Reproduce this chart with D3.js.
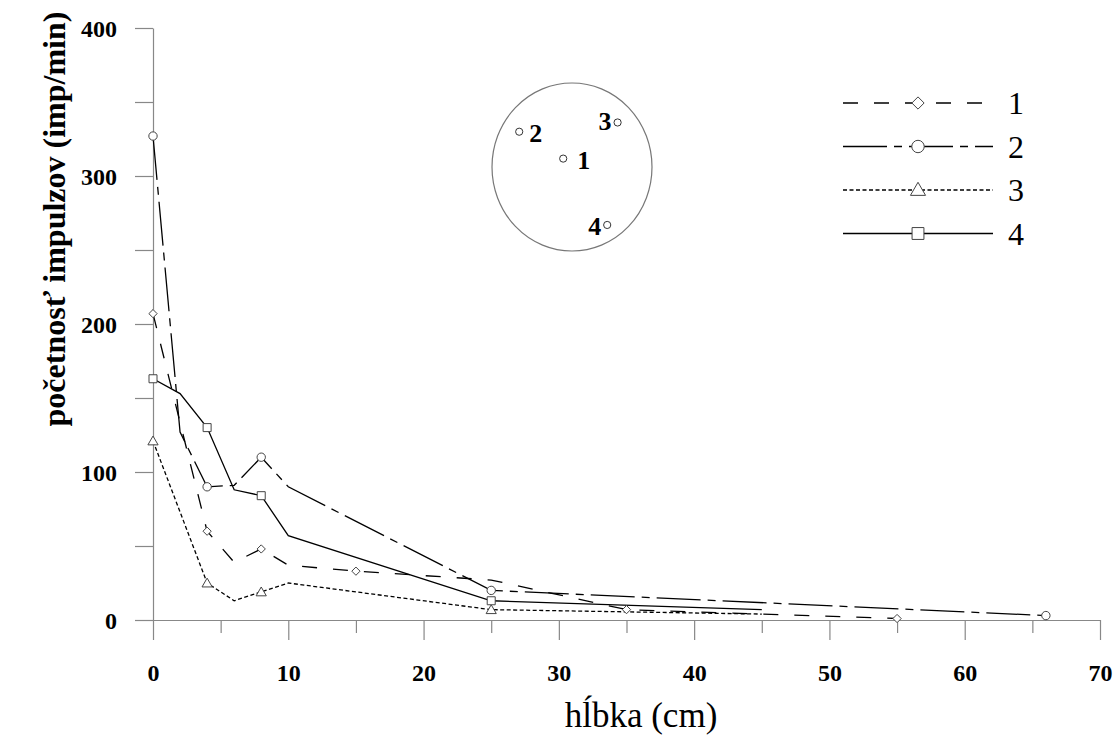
<!DOCTYPE html>
<html>
<head>
<meta charset="utf-8">
<script src="https://cdn.jsdelivr.net/npm/d3@7"></script>
<style>
  body { margin: 0; background: #fff; }
</style>
</head>
<body>
<div id="chart"></div>
<script>
// data: depth (cm) and count rate (imp/min)
// mark = 1 where the original shows a symbol on the point
var depth1 = [0, 4, 6, 8, 10, 15, 25, 35, 55];
var value1 = [207, 60, 39, 48, 37, 33, 27, 7, 1];
var mark1  = [1, 1, 0, 1, 0, 1, 0, 1, 1];

var depth2 = [0, 2, 4, 6, 8, 10, 25, 66];
var value2 = [327, 127, 90, 91, 110, 90, 20, 3];
var mark2  = [1, 0, 1, 0, 1, 0, 1, 1];

var depth3 = [0, 4, 6, 8, 10, 25, 45];
var value3 = [121, 25, 13, 19, 25, 7, 4];
var mark3  = [1, 1, 0, 1, 0, 1, 0];

var depth4 = [0, 2, 4, 6, 8, 10, 25, 45];
var value4 = [163, 153, 130, 88, 84, 57, 13, 7];
var mark4  = [1, 0, 1, 0, 1, 0, 1, 0];

var seriesNames = ["1", "2", "3", "4"];

// sample positions in the core cross-section (relative, -1..1)
var insetLabels = ["1", "2", "3", "4"];
var insetX = [-0.11, -0.66, 0.57, 0.44];
var insetY = [0.10, 0.42, 0.53, -0.69];

var width = 1115, height = 740;
var font = "'Liberation Serif', 'Times New Roman', Times, serif";

var x = d3.scaleLinear().domain([0, 70]).range([153, 1100]);
var y = d3.scaleLinear().domain([0, 400]).range([620, 28]);

var svg = d3.select("#chart").append("svg")
    .attr("width", width)
    .attr("height", height)
    .style("font-family", font);

// square turned 45 degrees, like the original diamonds
var rhomb = {
  draw: function(context, size) {
    var r = Math.sqrt(size / 2);
    context.moveTo(0, -r);
    context.lineTo(r, 0);
    context.lineTo(0, r);
    context.lineTo(-r, 0);
    context.closePath();
  }
};

function makeSeries(depth, value, mark) {
  return depth.map(function(d, i) {
    return {x: d, y: value[i], mark: mark[i]};
  });
}

var series = [
  {name: seriesNames[0], data: makeSeries(depth1, value1, mark1), dash: "15,16", symbol: rhomb, size: 34},
  {name: seriesNames[1], data: makeSeries(depth2, value2, mark2), dash: "44,7,8,7", symbol: d3.symbolCircle, size: 55},
  {name: seriesNames[2], data: makeSeries(depth3, value3, mark3), dash: "4,2.5", symbol: d3.symbolTriangle, size: 45},
  {name: seriesNames[3], data: makeSeries(depth4, value4, mark4), dash: null, symbol: d3.symbolSquare, size: 64}
];

// axes
var xAxis = d3.axisBottom(x)
    .tickValues(d3.range(0, 71, 5))
    .tickSize(20)
    .tickSizeOuter(0)
    .tickFormat(function(d) { return d % 10 === 0 ? d : ""; });

var gx = svg.append("g")
    .attr("transform", "translate(0,620)")
    .call(xAxis);
gx.selectAll(".tick line")
    .attr("y2", function(d) { return d % 10 === 0 ? 20 : 13; });
gx.selectAll(".tick text")
    .attr("y", 61).attr("dy", 0);

var yAxis = d3.axisLeft(y)
    .tickValues(d3.range(0, 401, 50))
    .tickSize(18)
    .tickSizeOuter(0)
    .tickPadding(18)
    .tickFormat(function(d) { return d % 100 === 0 ? d : ""; });

var gy = svg.append("g")
    .attr("transform", "translate(153,0)")
    .call(yAxis);
gy.selectAll(".tick text")
    .attr("dy", "0.34em");

svg.selectAll(".tick text")
    .style("font-family", font)
    .style("font-size", "24px")
    .style("font-weight", "bold")
    .attr("fill", "#000");

svg.selectAll(".domain, .tick line").attr("stroke", "#888").attr("stroke-width", 1.2);

// axis titles
svg.append("text")
    .attr("x", 641)
    .attr("y", 727)
    .attr("text-anchor", "middle")
    .style("font-family", font)
    .style("font-size", "35px")
    .text("hĺbka (cm)");

svg.append("text")
    .attr("transform", "translate(65,219) rotate(-90)")
    .attr("text-anchor", "middle")
    .style("font-family", font)
    .style("font-size", "32px")
    .style("font-weight", "bold")
    .text("početnosť impulzov (imp/min)");

// lines
var line = d3.line()
    .x(function(d) { return x(d.x); })
    .y(function(d) { return y(d.y); });

series.forEach(function(s) {
  svg.append("path")
      .datum(s.data)
      .attr("d", line)
      .attr("fill", "none")
      .attr("stroke", "#000")
      .attr("stroke-width", 1.3)
      .attr("stroke-dasharray", s.dash);
});

series.forEach(function(s) {
  svg.selectAll(null)
      .data(s.data.filter(function(d) { return d.mark; }))
      .enter().append("path")
      .attr("transform", function(d) {
        var off = s.symbol === d3.symbolTriangle ? 1 : 0;
        return "translate(" + x(d.x) + "," + (y(d.y) + off) + ")";
      })
      .attr("d", d3.symbol().type(s.symbol).size(s.size))
      .attr("fill", "#fff")
      .attr("stroke", "#444")
      .attr("stroke-width", 1);
});

// legend
var legend = svg.selectAll(".legend")
    .data(series)
    .enter().append("g")
    .attr("class", "legend")
    .attr("transform", function(d, i) { return "translate(843," + (103 + i * 43.5) + ")"; });

legend.append("line")
    .attr("x1", 0).attr("x2", 150)
    .attr("stroke", "#000")
    .attr("stroke-width", 1.3)
    .attr("stroke-dasharray", function(d) { return d.dash; });

legend.append("path")
    .attr("transform", function(d) {
      return "translate(75," + (d.symbol === d3.symbolTriangle ? 1 : 0) + ")";
    })
    .attr("d", function(d) { return d3.symbol().type(d.symbol).size(d.size * 2.2)(); })
    .attr("fill", "#fff")
    .attr("stroke", "#444")
    .attr("stroke-width", 1);

legend.append("text")
    .attr("x", 165)
    .attr("y", 11)
    .style("font-family", font)
    .style("font-size", "32px")
    .text(function(d) { return d.name; });

// inset: core cross-section with sample positions
var cx = 572, cy = 167, rx = 80, ry = 84;
var ix = d3.scaleLinear().domain([-1, 1]).range([cx - rx, cx + rx]);
var iy = d3.scaleLinear().domain([-1, 1]).range([cy + ry, cy - ry]);

svg.append("ellipse")
    .attr("cx", cx).attr("cy", cy)
    .attr("rx", rx).attr("ry", ry)
    .attr("fill", "none")
    .attr("stroke", "#777")
    .attr("stroke-width", 1.2);

var inset = svg.selectAll(".inset")
    .data(insetLabels)
    .enter().append("g")
    .attr("class", "inset")
    .attr("transform", function(d, i) { return "translate(" + ix(insetX[i]) + "," + iy(insetY[i]) + ")"; });

inset.append("circle")
    .attr("r", 3.6)
    .attr("fill", "#fff")
    .attr("stroke", "#333")
    .attr("stroke-width", 1);

inset.append("text")
    .attr("x", function(d, i) { return insetX[i] > 0.3 ? -6 : (i === 0 ? 14 : 10); })
    .attr("y", function(d, i) { return i === 2 ? 8 : 10; })
    .attr("text-anchor", function(d, i) { return insetX[i] > 0.3 ? "end" : "start"; })
    .style("font-family", font)
    .style("font-size", "26px")
    .style("font-weight", "bold")
    .text(function(d) { return d; });
</script>
</body>
</html>
